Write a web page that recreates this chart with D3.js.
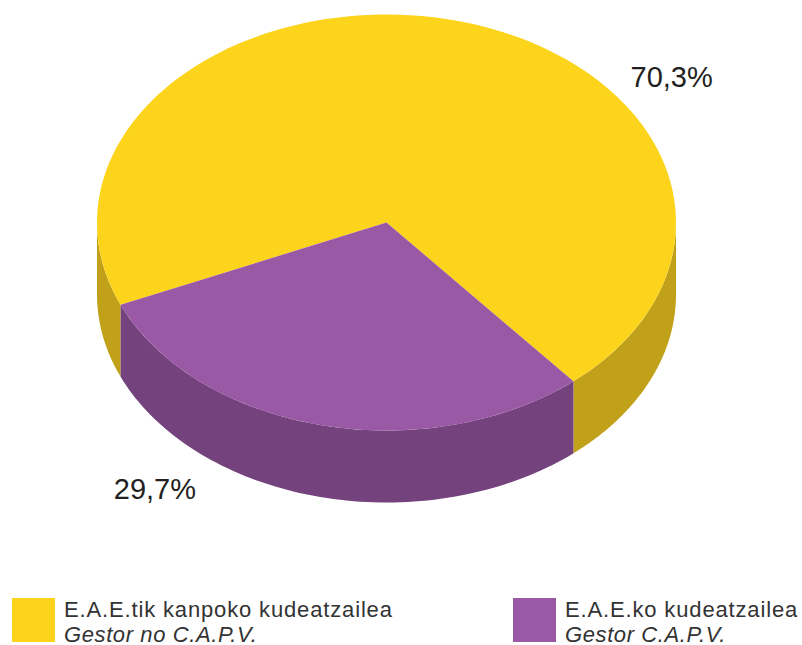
<!DOCTYPE html>
<html>
<head>
<meta charset="utf-8">
<script src="https://cdn.jsdelivr.net/npm/d3@7"></script>
<style>
  body { margin: 0; background: #fff; }
  text { font-family: "Liberation Sans", Arial, sans-serif; fill: #231f20; }
</style>
</head>
<body>
<svg id="chart" width="802" height="645"></svg>
<script>
// data
var categories = ["E.A.E.tik kanpoko kudeatzailea", "E.A.E.ko kudeatzailea"];
var categoriesEs = ["Gestor no C.A.P.V.", "Gestor C.A.P.V."];
var values = [70.3, 29.7];
var valueLabels = ["70,3%", "29,7%"];
var topColors = ["#fdd41c", "#9a59a4"];
var sideColors = ["#c2a11a", "#74427c"];

var width = 802, height = 645;
var cx = 386.5, cy = 222.5, rx = 289.5, ry = 208, depth = 72;

var svg = d3.select("#chart");

var start = 246.7 * Math.PI / 180;
var pie = d3.pie().sort(null).startAngle(start).endAngle(start + 2 * Math.PI);
var arcs = pie(values);

function px(a, k) { return cx + rx * (k || 1) * Math.sin(a); }
function py(a, k) { return cy - ry * (k || 1) * Math.cos(a); }

function topPath(d) {
  var n = 120, pts = [[cx, cy]];
  for (var i = 0; i <= n; i++) {
    var a = d.startAngle + (d.endAngle - d.startAngle) * i / n;
    pts.push([px(a), py(a)]);
  }
  return "M" + pts.join("L") + "Z";
}

// outer wall, only the front half (angles 90..270 deg)
function sidePath(d) {
  var out = "";
  for (var k = -1; k <= 2; k++) {
    var lo = Math.max(d.startAngle, Math.PI / 2 + k * 2 * Math.PI);
    var hi = Math.min(d.endAngle, 3 * Math.PI / 2 + k * 2 * Math.PI);
    if (hi <= lo) continue;
    var n = 80, up = [], down = [];
    for (var i = 0; i <= n; i++) {
      var a = lo + (hi - lo) * i / n;
      up.push([px(a), py(a)]);
      down.push([px(a), py(a) + depth]);
    }
    out += "M" + up.join("L") + "L" + down.reverse().join("L") + "Z";
  }
  return out;
}

var g = svg.append("g");

g.selectAll("path.side")
  .data(arcs)
  .enter().append("path")
    .attr("class", "side")
    .attr("d", sidePath)
    .attr("fill", function(d, i) { return sideColors[i]; });

g.selectAll("path.top")
  .data(arcs)
  .enter().append("path")
    .attr("class", "top")
    .attr("d", topPath)
    .attr("fill", function(d, i) { return topColors[i]; });

// value labels
var labelPos = [[0.985, -0.652], [-0.8, 1.33]];
g.selectAll("text.val")
  .data(valueLabels)
  .enter().append("text")
    .attr("class", "val")
    .attr("x", function(d, i) { return cx + labelPos[i][0] * rx; })
    .attr("y", function(d, i) { return cy + labelPos[i][1] * ry; })
    .attr("text-anchor", "middle")
    .style("font-size", "29px")
    .text(function(d) { return d; });

// legend
var legendX = d3.scalePoint().domain(categories).range([12, 513]);
var legend = svg.selectAll("g.legend")
  .data(categories)
  .enter().append("g")
    .attr("class", "legend")
    .attr("transform", function(d) { return "translate(" + legendX(d) + ",598)"; });

legend.append("rect")
  .attr("width", 43)
  .attr("height", 44)
  .attr("fill", function(d, i) { return topColors[i]; });

legend.append("text")
  .attr("x", 52)
  .attr("y", 19)
  .style("font-size", "22px")
  .style("letter-spacing", "0.85px")
  .style("fill", "#333")
  .text(function(d) { return d; });

legend.append("text")
  .attr("x", 52)
  .attr("y", 44)
  .style("font-size", "22px")
  .style("letter-spacing", "0.6px")
  .style("font-style", "italic")
  .style("fill", "#333")
  .text(function(d, i) { return categoriesEs[i]; });
</script>
</body>
</html>
